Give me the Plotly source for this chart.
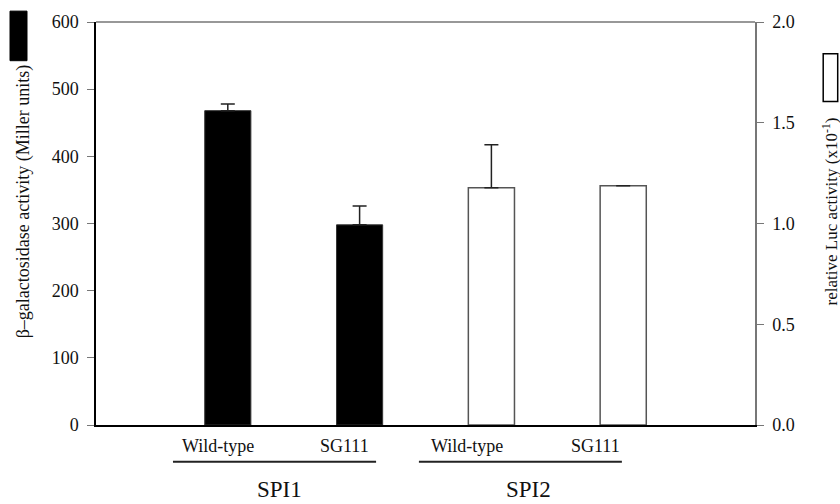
import plotly.graph_objects as go

# ---- data ----
strains = ["Wild-type", "SG111"]
groups = ["SPI1", "SPI2"]
spi1_positions = [1, 2]
spi2_positions = [3, 4]
bgal_values = [468, 298]          # Miller units (left axis)
bgal_errors = [10, 28]
luc_values = [1.177, 1.187]       # relative Luc activity x10^-1 (right axis)
luc_errors = [0.214, None]
left_ticks = [0, 100, 200, 300, 400, 500, 600]
right_ticks = [0.0, 0.5, 1.0, 1.5, 2.0]
right_ticklabels = ["0.0", "0.5", "1.0", "1.5", "2.0"]

FONT = "Liberation Serif, Times New Roman, serif"

fig = go.Figure()
fig.add_trace(go.Bar(
    x=spi1_positions, y=bgal_values, width=0.35,
    marker=dict(color="black", line=dict(color="#333333", width=1)),
    error_y=dict(type="data", array=bgal_errors, symmetric=False, arrayminus=[0, 0],
                 color="#222222", thickness=1.5, width=7),
    yaxis="y", showlegend=False,
))
fig.add_trace(go.Bar(
    x=spi2_positions, y=luc_values, width=0.35,
    marker=dict(color="white", line=dict(color="#555555", width=1.5)),
    error_y=dict(type="data", array=luc_errors, symmetric=False, arrayminus=[0, None],
                 color="#222222", thickness=1.5, width=7),
    yaxis="y2", showlegend=False,
))

fig.update_layout(
    width=840, height=504,
    margin=dict(l=96, r=85, t=20, b=79),
    paper_bgcolor="white", plot_bgcolor="white",
    font=dict(family=FONT, color="#111111", size=18),
    barmode="overlay",
    xaxis=dict(range=[0, 5], showticklabels=False, ticks="", showgrid=False,
               zeroline=False, showline=True, linecolor="black", linewidth=2),
    yaxis=dict(range=[0, 600], tickvals=left_ticks, ticks="outside", ticklen=7,
               tickcolor="#777777", showgrid=False, zeroline=False,
               showline=True, linecolor="black", linewidth=1.5,
               tickfont=dict(family=FONT, size=18, color="#111111"), ticklabelstandoff=5),
    yaxis2=dict(range=[0, 2], tickvals=right_ticks, ticktext=right_ticklabels,
                overlaying="y", side="right", ticks="outside", ticklen=7,
                tickcolor="#777777", showgrid=False, zeroline=False,
                showline=True, linecolor="#777777", linewidth=1.5,
                tickfont=dict(family=FONT, size=18, color="#111111"), ticklabelstandoff=5),
)

shapes = []
# top frame line
shapes.append(dict(type="line", xref="paper", yref="paper", x0=0, x1=1, y0=1, y1=1,
                   line=dict(color="#333333", width=1.2)))
# legend-like boxes
shapes.append(dict(type="rect", xref="paper", yref="paper",
                   x0=-0.1305, x1=-0.1047, y0=0.904, y1=1.027,
                   fillcolor="black", line=dict(color="black", width=1)))
shapes.append(dict(type="rect", xref="paper", yref="paper",
                   x0=1.1035, x1=1.1255, y0=0.8025, y1=0.921,
                   fillcolor="white", line=dict(color="black", width=1.5)))
# group underline
for x0, x1 in [(0.584, 2.125), (2.45, 3.99)]:
    shapes.append(dict(type="line", xref="x", yref="paper", x0=x0, x1=x1,
                       y0=-0.0914, y1=-0.0914, line=dict(color="#222222", width=2)))
fig.update_layout(shapes=shapes)

annotations = []
label_shifts = [-10, -15, -24, -28]
positions = spi1_positions + spi2_positions
for i, pos in enumerate(positions):
    annotations.append(dict(x=pos, y=-0.053, xref="x", yref="paper", xshift=label_shifts[i],
                            text=strains[i % 2], showarrow=False,
                            font=dict(family=FONT, size=18, color="#111111"),
                            xanchor="center", yanchor="middle"))
for gx, g in zip([1.396, 3.28], groups):
    annotations.append(dict(x=gx, y=-0.16, xref="x", yref="paper", text=g,
                            showarrow=False, font=dict(family=FONT, size=23, color="#111111"),
                            xanchor="center", yanchor="middle"))
annotations.append(dict(x=-0.1108, y=0.555, xref="paper", yref="paper",
                        text="β–galactosidase activity (Miller units)", textangle=-90,
                        showarrow=False, font=dict(family=FONT, size=18, color="#111111"),
                        xanchor="center", yanchor="middle"))
annotations.append(dict(x=1.1138, y=0.53, xref="paper", yref="paper",
                        text="relative Luc activity (x10<sup>-1</sup>)", textangle=-90,
                        showarrow=False, font=dict(family=FONT, size=17, color="#111111"),
                        xanchor="center", yanchor="middle"))
fig.update_layout(annotations=annotations)

fig.write_html("out.html")
